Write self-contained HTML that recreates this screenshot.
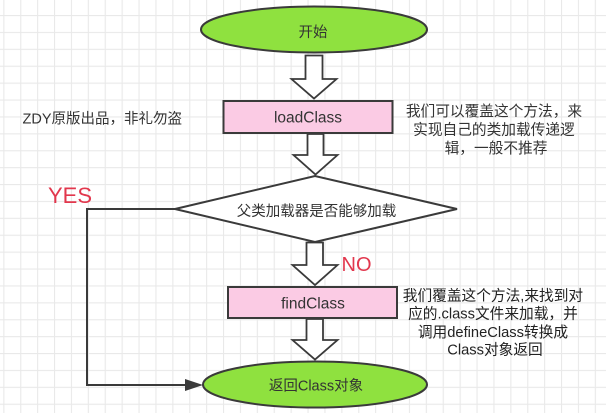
<!DOCTYPE html>
<html><head><meta charset="utf-8">
<style>
html,body{margin:0;padding:0;background:#fff;}
svg{display:block;}
text{font-family:"Liberation Sans","Noto Sans CJK SC",sans-serif;}
</style></head>
<body>
<svg width="606" height="413" viewBox="0 0 606 413" xmlns="http://www.w3.org/2000/svg">
<defs>
<pattern id="g" x="3.3" y="-1.9" width="16.9" height="16.9" patternUnits="userSpaceOnUse">
<path d="M0.5 0V16.9M0 0.5H16.9" stroke="#e9e9e9" stroke-width="1.2" fill="none"/>
</pattern>
</defs>
<rect width="606" height="413" fill="#fff"/>
<rect width="606" height="413" fill="url(#g)"/>

<!-- start ellipse -->
<ellipse cx="314" cy="29.5" rx="113" ry="23" fill="#8fe13f" stroke="#3a3a3a" stroke-width="2"/>
<text x="313" y="37" font-size="14.5" fill="#333" text-anchor="middle">开始</text>

<!-- arrow 1 -->
<path d="M305.5 55.5H322.5V79H336.5L314 98.5L291.5 79H305.5Z" fill="#fff" stroke="#3a3a3a" stroke-width="1.8" stroke-linejoin="miter"/>

<!-- loadClass box -->
<rect x="223.5" y="101" width="169" height="32" fill="#fbcbe4" stroke="#3a3a3a" stroke-width="2"/>
<text x="308" y="122.5" font-size="15.5" fill="#333" text-anchor="middle">loadClass</text>

<!-- arrow 2 -->
<path d="M307.5 134H323.5V155H337.5L315.5 174.5L293.5 155H307.5Z" fill="#fff" stroke="#3a3a3a" stroke-width="1.8"/>

<!-- diamond -->
<polygon points="175,209 315,176 457,209 315,242" fill="#fff" stroke="#3a3a3a" stroke-width="2"/>
<text x="316.5" y="216" font-size="14.5" fill="#333" text-anchor="middle">父类加载器是否能够加载</text>

<!-- arrow 3 -->
<path d="M306.5 242.5H323V265H337.5L315 285L292.5 265H306.5Z" fill="#fff" stroke="#3a3a3a" stroke-width="1.8"/>

<!-- findClass box -->
<rect x="228" y="287" width="169" height="31" fill="#fbcbe4" stroke="#3a3a3a" stroke-width="2"/>
<text x="313" y="308.5" font-size="15.5" fill="#333" text-anchor="middle">findClass</text>

<!-- arrow 4 -->
<path d="M306.5 319H323V340H337.5L315 359.5L292.5 340H306.5Z" fill="#fff" stroke="#3a3a3a" stroke-width="1.8"/>

<!-- end ellipse -->
<ellipse cx="315" cy="384.5" rx="112" ry="23" fill="#8fe13f" stroke="#3a3a3a" stroke-width="2"/>
<text x="316" y="390.5" font-size="14.5" fill="#333" text-anchor="middle">返回Class对象</text>

<!-- YES connector -->
<polyline points="175,209 87,209 87,385 189,385" fill="none" stroke="#3a3a3a" stroke-width="2"/>
<polygon points="185,379 203,385 185,391" fill="#3a3a3a"/>

<!-- labels -->
<text x="48" y="203" font-size="22" fill="#e2374d">YES</text>
<text x="341.5" y="271" font-size="20" fill="#e2374d">NO</text>

<text x="22.5" y="123.5" font-size="14.5" fill="#333">ZDY原版出品，非礼勿盗</text>

<text font-size="14.7" fill="#333" text-anchor="middle">
<tspan x="496" y="116">我们可以覆盖这个方法，来</tspan>
<tspan x="496" y="134.5">实现自己的类加载传递逻</tspan>
<tspan x="496" y="153">辑，一般不推荐</tspan>
</text>

<text font-size="14.7" fill="#222" text-anchor="middle">
<tspan x="495" y="300.5">我们覆盖这个方法,来找到对</tspan>
<tspan x="495" y="318.5">应的.class文件来加载，并</tspan>
<tspan x="495" y="337">调用defineClass转换成</tspan>
<tspan x="495" y="354.5">Class对象返回</tspan>
</text>
</svg>
</body></html>
